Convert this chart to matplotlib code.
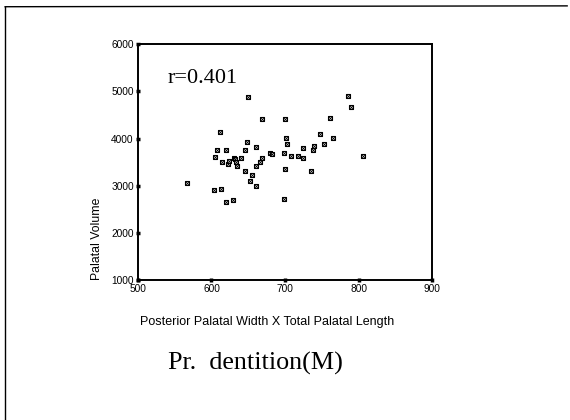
import numpy as np
import matplotlib.pyplot as plt
from matplotlib.lines import Line2D

# values
width_x_length = [567, 604, 613, 620, 629, 605, 608, 611, 615, 620, 622, 624, 630,
                  632, 633, 635, 640, 645, 649, 650, 646, 652, 655, 660, 660, 660,
                  666, 669, 669, 680, 682, 698, 700, 700, 699, 702, 703, 708, 718,
                  724, 725, 736, 738, 740, 747, 753, 761, 765, 785, 790, 806]
palatal_volume = [3067, 2899, 2941, 2660, 2702, 3616, 3750, 4143, 3510, 3750, 3468,
                  3524, 3580, 3566, 3496, 3426, 3587, 3750, 3918, 4882, 3306, 3095,
                  3236, 3004, 3813, 3419, 3496, 3580, 4410, 3700, 3679, 3700, 4410,
                  3363, 2709, 4003, 3876, 3623, 3623, 3806, 3580, 3306, 3750, 3848,
                  4101, 3883, 4432, 4017, 4896, 4671, 3623]
x_ticks = [500, 600, 700, 800, 900]
y_ticks = [1000, 2000, 3000, 4000, 5000, 6000]

fig = plt.figure(figsize=(5.7, 4.2), dpi=100)
ax = fig.add_axes([0.242, 0.333, 0.516, 0.562])

ax.scatter(width_x_length, palatal_volume, marker='s', s=9, facecolors='white',
           edgecolors='black', linewidths=0.8, zorder=3)
ax.scatter(width_x_length, palatal_volume, marker='x', s=5, color='black',
           linewidths=0.6, zorder=4)

ax.set_xlim(500, 900)
ax.set_ylim(1000, 6000)
ax.set_xticks(x_ticks)
ax.set_yticks(y_ticks)
for s in ax.spines.values():
    s.set_linewidth(1.4)
ax.tick_params(direction='inout', length=3, width=2.5, labelsize=7.3,
               pad=1.5, labelfontfamily='Liberation Sans')

ax.set_xlabel('Posterior Palatal Width X Total Palatal Length', fontsize=9,
              family='Liberation Sans')
ax.xaxis.set_label_coords(0.44, -0.15)
ax.set_ylabel('Palatal Volume', fontsize=8.8, family='Liberation Sans', loc='bottom',
              labelpad=6)

ax.text(0.1, 0.855, 'r=0.401', transform=ax.transAxes, fontsize=16,
        family='Liberation Serif', va='center')

fig.text(0.448, 0.135, 'Pr.  dentition(M)', fontsize=18.8, family='Liberation Serif',
         ha='center', va='center')

# partial outer frame (top and left edges)
fig.add_artist(Line2D([0.009, 0.995], [0.984, 0.986], color='black', lw=1.0,
                      transform=fig.transFigure))
fig.add_artist(Line2D([0.009, 0.009], [0.984, 0.0], color='black', lw=1.0,
                      transform=fig.transFigure))

plt.savefig('out.png', dpi=100)
